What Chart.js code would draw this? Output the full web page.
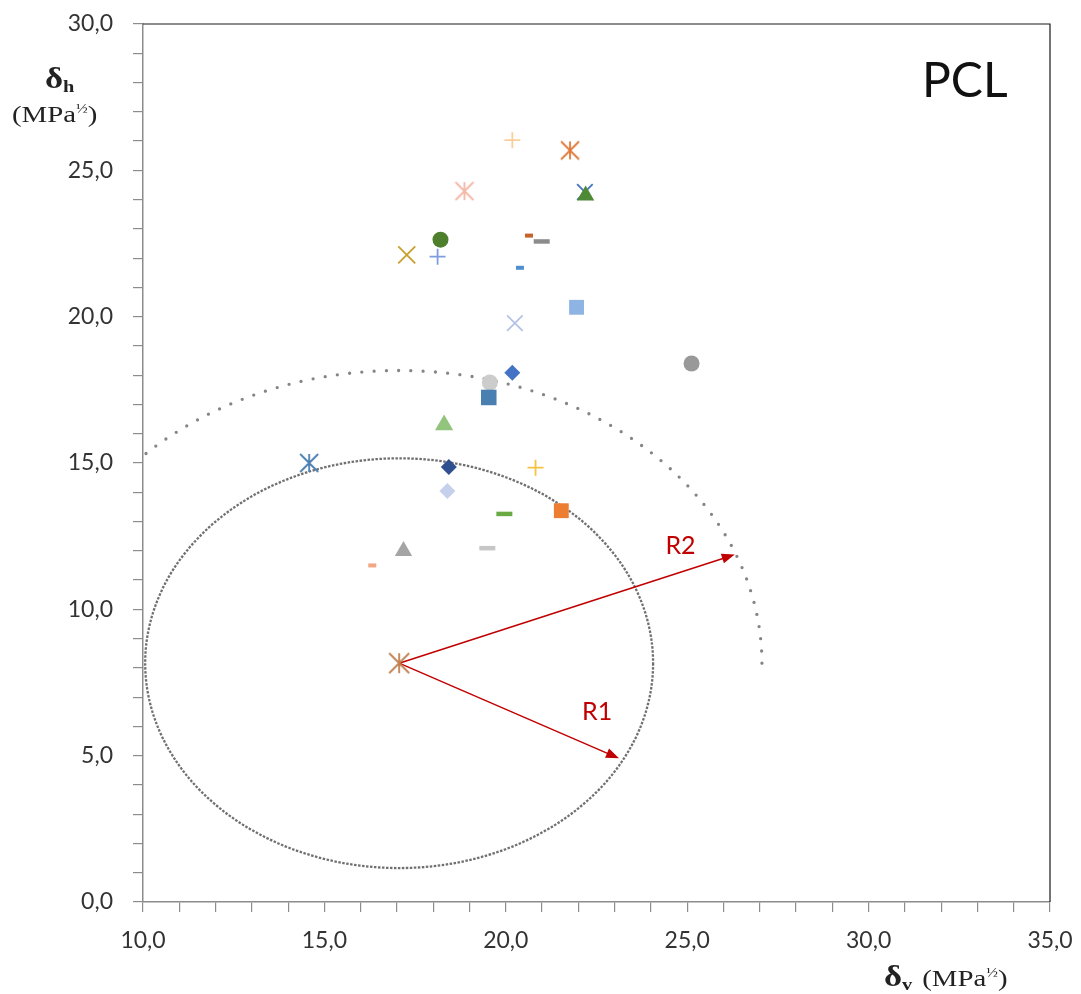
<!DOCTYPE html>
<html lang="en">
<head>
    <meta charset="UTF-8">
    <title>PCL - Hansen plot</title>
    <script src="https://cdn.jsdelivr.net/npm/chart.js"></script>
    <style>
        body { margin: 0; background: #fff; }
        canvas { display: block; }
    </style>
</head>
<body>
    <canvas id="pclChart" width="1081" height="994"></canvas>

    <script>
        // solvents: delta v (x) and delta h (y), MPa^1/2
        const solventDv = [20.18, 21.77, 18.86, 22.18, 22.20, 18.20, 17.27, 18.12, 20.64, 20.99, 20.39, 21.95, 20.25, 25.12,
                           20.18, 19.56, 19.53, 18.30, 14.58, 18.43, 20.82, 18.39, 19.96, 21.53, 17.18, 19.49, 16.32];
        const solventDh = [26.03, 25.68, 24.29, 24.26, 24.14, 22.63, 22.11, 22.05, 22.77, 22.57, 21.67, 20.32, 19.78, 18.40,
                           18.08, 17.75, 17.24, 16.30, 15.00, 14.86, 14.84, 14.04, 13.26, 13.37, 11.99, 12.09, 11.50];

        // polymer (sphere centre) and radii
        const pclDv = 17.06;
        const pclDh = 8.16;
        const radiusR1 = 7.0;
        const radiusR2 = 10.0;
        const tipR1 = [23.12, 4.91];
        const tipR2 = [26.31, 11.87];

        const xTicks = [10, 35];
        const yTicks = [0, 30];

        // marker look for each solvent: [shape, colour, size]
        const markers = [
            ['cross', '#fbcf9c', 8], ['aster', '#e0783a', 9], ['aster', '#f4b7a5', 9], ['crossRot', '#4472c4', 11],
            ['triangle', '#4e8a35', 10], ['circle', '#4e7f2c', 8], ['crossRot', '#c9a02e', 12], ['cross', '#7f9ee0', 8],
            ['line', '#c8622a', 4], ['line', '#8c8c8c', 8], ['line', '#4f8fcf', 4], ['rect', '#8eb4e3', 10.5],
            ['crossRot', '#b4c3e8', 11], ['circle', '#999999', 8], ['rectRot', '#4472c4', 8], ['circle', '#cccccc', 8],
            ['rect', '#4a7fb1', 11], ['triangle', '#93c47d', 10.5], ['aster', '#4a7fb1', 9], ['rectRot', '#2f5090', 8],
            ['cross', '#f5c242', 8], ['rectRot', '#c5d1ec', 8], ['line', '#6aaa45', 8], ['rect', '#ed7d31', 10.5],
            ['triangle', '#a5a5a5', 10], ['line', '#c6c6c6', 8], ['line', '#f4a582', 4]
        ];

        function makeAsterisk(color, r) {
            const c = document.createElement('canvas');
            c.width = c.height = Math.ceil(2 * r + 4);
            const g = c.getContext('2d');
            const m = c.width / 2;
            g.strokeStyle = color;
            g.lineWidth = 1.8;
            g.beginPath();
            g.moveTo(m, m - r); g.lineTo(m, m + r);
            g.moveTo(m - r, m - r); g.lineTo(m + r, m + r);
            g.moveTo(m + r, m - r); g.lineTo(m - r, m + r);
            g.stroke();
            return c;
        }

        const styleOf = markers.map(m => m[0] === 'aster' ? makeAsterisk(m[1], m[2]) : m[0]);
        const stroked = ['cross', 'crossRot', 'line', 'aster'];

        const points = solventDv.map((v, i) => ({ x: v, y: solventDh[i] }));

        const tickFont = { family: 'Lato', size: 23 };
        const fmt = v => (v % 5 === 0 ? v.toFixed(1).replace('.', ',') : '');

        // "δ" + bold subscript, stretched a little like the source; returns drawn width
        function deltaText(ctx, x, y, sub) {
            ctx.save();
            ctx.translate(x, y);
            ctx.scale(1.2, 1);
            ctx.font = 'bold 29px "Liberation Serif"';
            ctx.fillText('δ', 0, 0);
            let w = ctx.measureText('δ').width;
            ctx.font = 'bold 17px "Liberation Serif"';
            ctx.fillText(sub, w, 4);
            w += ctx.measureText(sub).width;
            ctx.restore();
            return w * 1.2;
        }

        function mpaText(ctx, x, y) {
            ctx.save();
            ctx.translate(x, y);
            ctx.scale(1.2, 1);
            ctx.font = '24px "Liberation Serif"';
            ctx.fillText('(MPa', 0, 0);
            let w = ctx.measureText('(MPa').width;
            ctx.font = '13px "Liberation Serif"';
            ctx.fillText('½', w, -9);
            w += ctx.measureText('½').width;
            ctx.font = '24px "Liberation Serif"';
            ctx.fillText(')', w, 0);
            ctx.restore();
        }

        const sketch = {
            id: 'sketch',
            beforeDatasetsDraw(chart) {
                const { ctx, chartArea: a, scales: { x, y } } = chart;
                const cx = x.getPixelForValue(pclDv), cy = y.getPixelForValue(pclDh);
                const kx = x.getPixelForValue(11) - x.getPixelForValue(10);
                const ky = y.getPixelForValue(0) - y.getPixelForValue(1);
                ctx.save();
                ctx.beginPath();
                ctx.rect(a.left, a.top, a.right - a.left, a.bottom - a.top);
                ctx.clip();
                ctx.strokeStyle = '#707070';
                ctx.lineWidth = 2.3;
                ctx.setLineDash([2.5, 1.5]);
                ctx.beginPath();
                ctx.ellipse(cx, cy, radiusR1 * kx, radiusR1 * ky, 0, 0, 2 * Math.PI);
                ctx.stroke();
                ctx.strokeStyle = '#858585';
                ctx.lineWidth = 3.3;
                ctx.lineCap = 'round';
                ctx.setLineDash([0, 12.3]);
                ctx.beginPath();
                ctx.ellipse(cx, cy, radiusR2 * kx, radiusR2 * ky, 0, 0, Math.PI, true);
                ctx.stroke();
                ctx.restore();

                // radius arrows
                ctx.save();
                ctx.strokeStyle = ctx.fillStyle = '#c00000';
                ctx.lineWidth = 1.5;
                [tipR1, tipR2].forEach(t => {
                    const tx = x.getPixelForValue(t[0]), ty = y.getPixelForValue(t[1]);
                    const ang = Math.atan2(ty - cy, tx - cx);
                    ctx.beginPath();
                    ctx.moveTo(cx, cy);
                    ctx.lineTo(tx - 10 * Math.cos(ang), ty - 10 * Math.sin(ang));
                    ctx.stroke();
                    ctx.beginPath();
                    ctx.moveTo(tx, ty);
                    ctx.lineTo(tx - 13 * Math.cos(ang) + 5 * Math.sin(ang), ty - 13 * Math.sin(ang) - 5 * Math.cos(ang));
                    ctx.lineTo(tx - 13 * Math.cos(ang) - 5 * Math.sin(ang), ty - 13 * Math.sin(ang) + 5 * Math.cos(ang));
                    ctx.closePath();
                    ctx.fill();
                });
                ctx.font = '25px Lato';
                ctx.fillText('R1', x.getPixelForValue(22.1), y.getPixelForValue(6.23));
                ctx.fillText('R2', x.getPixelForValue(24.4), y.getPixelForValue(11.9));
                ctx.restore();
            },
            afterDraw(chart) {
                const { ctx, chartArea: a } = chart;
                ctx.save();
                // frame top / right
                ctx.strokeStyle = '#1a1a1a';
                ctx.lineWidth = 1.2;
                ctx.beginPath();
                ctx.moveTo(a.left, a.top);
                ctx.lineTo(a.right, a.top);
                ctx.lineTo(a.right, a.bottom);
                ctx.stroke();

                ctx.fillStyle = '#111';
                ctx.font = '48px Lato';
                ctx.textAlign = 'left';
                ctx.fillText('PCL', 922, 97);

                ctx.fillStyle = '#222';
                deltaText(ctx, 45, 88, 'h');
                mpaText(ctx, 12, 122);
                const w = deltaText(ctx, 884, 986, 'v');
                mpaText(ctx, 884 + w + 10, 986);
                ctx.restore();
            }
        };

        const ctx = document.getElementById('pclChart').getContext('2d');

        const chart = new Chart(ctx, {
            type: 'scatter',
            data: {
                datasets: [{
                    label: 'solvents',
                    data: points,
                    pointStyle: styleOf,
                    pointRadius: markers.map(m => m[2]),
                    pointBackgroundColor: markers.map(m => m[1]),
                    pointBorderColor: markers.map(m => m[1]),
                    pointBorderWidth: markers.map(m => m[0] === 'line' ? (m[2] > 5 ? 4.5 : 4) : stroked.includes(m[0]) ? 1.8 : 0)
                }, {
                    label: 'PCL',
                    data: [{ x: pclDv, y: pclDh }],
                    pointStyle: makeAsterisk('#c0804f', 10),
                    pointRadius: 10
                }]
            },
            options: {
                responsive: false,
                animation: false,
                events: [],
                layout: { padding: { top: 24, right: 31, left: 0, bottom: 0 } },
                plugins: { legend: { display: false }, tooltip: { enabled: false } },
                scales: {
                    x: {
                        type: 'linear',
                        min: xTicks[0], max: xTicks[1],
                        ticks: { stepSize: 1, autoSkip: false, maxRotation: 0, minRotation: 0, font: tickFont, color: '#333', padding: 15, callback: fmt },
                        grid: { drawOnChartArea: false, tickLength: 10, color: '#8c8c8c', lineWidth: 1.2 },
                        border: { color: '#8c8c8c', width: 1.5 },
                        afterFit: s => { s.height = 92; s.paddingLeft = 0; s.paddingRight = 0; }
                    },
                    y: {
                        type: 'linear',
                        min: yTicks[0], max: yTicks[1],
                        ticks: { stepSize: 1, autoSkip: false, font: tickFont, color: '#333', padding: 20, callback: fmt },
                        grid: { drawOnChartArea: false, tickLength: 10, color: '#8c8c8c', lineWidth: 1.2 },
                        border: { color: '#8c8c8c', width: 1.5 },
                        afterFit: s => { s.width = 143; s.paddingTop = 0; s.paddingBottom = 0; }
                    }
                }
            },
            plugins: [sketch]
        });
    </script>
</body>
</html>
